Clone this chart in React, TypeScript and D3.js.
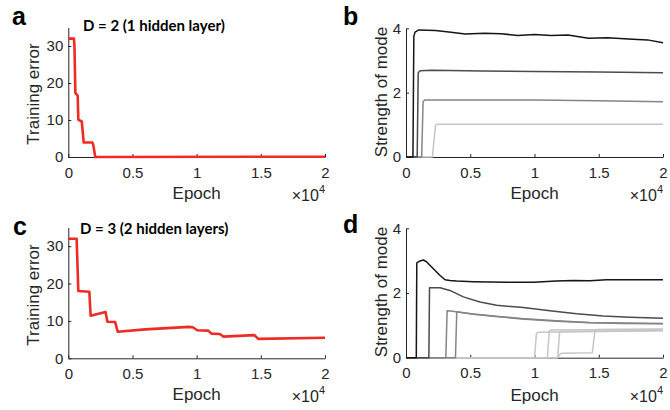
import React, { useEffect, useRef } from "react";
import * as d3 from "d3";

type Pt = [number, number];

// axis ticks
const epochTicks = [0, 5000, 10000, 15000, 20000];
const epochTickLabels = ["0", "0.5", "1", "1.5", "2"];
const errorTicks = [0, 10, 20, 30];
const strengthTicks = [0, 2, 4];

// panel a: training error, D = 2
const errorD2: Pt[] = [
  [0, 32], [440, 32], [480, 30], [550, 17.3], [730, 16.6], [780, 10.1], [1050, 9.6],
  [1200, 3.9], [1880, 3.9], [1950, 3.2], [2100, 0], [20000, 0.08],
];

// panel c: training error, D = 3
const errorD3: Pt[] = [
  [0, 32], [650, 32], [780, 18], [1640, 17.8], [1740, 11.4], [2900, 12.4], [3050, 9.8],
  [3650, 9.7], [3850, 7.1], [6000, 7.75], [9400, 8.4], [9700, 8.3], [10050, 7.5],
  [10900, 7.4], [11150, 6.6], [11800, 6.5], [12100, 5.8], [14500, 6.2], [14800, 5.2],
  [20000, 5.5],
];

// panel b: mode strengths, D = 2
const modeB1: Pt[] = [
  [0, 0], [540, 0], [610, 3.75], [700, 3.88], [1000, 3.95], [2300, 3.93], [3500, 3.88],
  [4600, 3.82], [6100, 3.85], [7400, 3.83], [8700, 3.78], [10000, 3.81], [11300, 3.78],
  [12600, 3.79], [14200, 3.69], [15700, 3.71], [17300, 3.67], [18800, 3.64], [20000, 3.55],
];
const modeB2: Pt[] = [
  [0, 0], [870, 0], [950, 2.62], [1100, 2.68], [2000, 2.7], [6000, 2.67], [10000, 2.66],
  [15000, 2.64], [20000, 2.62],
];
const modeB3: Pt[] = [
  [0, 0], [1220, 0], [1330, 1.72], [1450, 1.77], [10000, 1.77], [15000, 1.75], [20000, 1.72],
];
const modeB4: Pt[] = [[0, 0], [2050, 0], [2300, 0.98], [2400, 1.02], [20000, 1.02]];

// panel d: mode strengths, D = 3
const modeD1: Pt[] = [
  [0, 0], [800, 0], [840, 2.93], [1090, 2.99], [1350, 3.02], [1610, 2.96], [2130, 2.75],
  [2650, 2.54], [3040, 2.41], [3420, 2.39], [3940, 2.37], [5240, 2.35], [6540, 2.34],
  [7830, 2.33], [9910, 2.33], [11700, 2.37], [13000, 2.39], [14300, 2.38], [15600, 2.41],
  [20000, 2.41],
];
const modeD2: Pt[] = [
  [0, 0], [1780, 0], [1830, 2.16], [2650, 2.16], [3420, 2.08], [4460, 1.88], [5760, 1.72],
  [7050, 1.62], [9130, 1.55], [11200, 1.45], [13280, 1.36], [15350, 1.29], [17430, 1.25],
  [20000, 1.22],
];
const modeD3: Pt[] = [
  [0, 0], [3100, 0], [3200, 1.45], [3500, 1.44], [4000, 1.41], [5240, 1.35], [7000, 1.28],
  [9000, 1.21], [11700, 1.14], [14300, 1.09], [16900, 1.07], [20000, 1.06],
];
const modeD4: Pt[] = [
  [0, 0], [3850, 0], [3950, 1.42], [5240, 1.34], [7000, 1.27], [9000, 1.2], [11700, 1.13],
  [14300, 1.08], [16900, 1.06], [20000, 1.05],
];
const modeD5: Pt[] = [[0, 0], [10000, 0], [10150, 0.75], [10300, 0.79], [20000, 0.83]];
const modeD6: Pt[] = [[0, 0], [11000, 0], [11150, 0.82], [11300, 0.86], [20000, 0.88]];
const modeD7: Pt[] = [[0, 0], [11800, 0], [11950, 0.78], [12100, 0.81], [20000, 0.84]];
const modeD8: Pt[] = [
  [0, 0], [11800, 0], [12000, 0.12], [12200, 0.14], [14500, 0.15], [14700, 0.82],
  [14850, 0.87], [20000, 0.88],
];

const red = "#ee2b25";
const modeColorsB = ["#151515", "#4b4b4b", "#858585", "#c6c6c6"];
const modeColorsD = ["#151515", "#4b4b4b", "#858585", "#858585", "#c6c6c6", "#c6c6c6", "#c6c6c6", "#c6c6c6"];

const axisColor = "#262626";
const tickFont = "'Liberation Sans', Arial, sans-serif";
const titleFont = "Lato, 'Open Sans', sans-serif";

const panels = [
  {
    letter: "a", lx: 12, ly: 25,
    title: "D = 2 (1 hidden layer)", tx: 83, ty: 30.5,
    left: 68.3, right: 325, bottom: 157, top: 27.5, ymax: 35, yTicks: errorTicks,
    yLabel: "Training error", ylx: 38.5, yly: 94,
    xlabelY: 199, expY: 201,
    series: [errorD2], colors: [red], width: 2.6,
  },
  {
    letter: "b", lx: 343, ly: 25,
    title: "", tx: 0, ty: 0,
    left: 406, right: 663, bottom: 157, top: 28.3, ymax: 4, yTicks: strengthTicks,
    yLabel: "Strength of mode", ylx: 386.5, yly: 92,
    xlabelY: 199, expY: 201,
    series: [modeB1, modeB2, modeB3, modeB4], colors: modeColorsB, width: 1.5,
  },
  {
    letter: "c", lx: 13, ly: 235,
    title: "D = 3 (2 hidden layers)", tx: 80, ty: 234,
    left: 68.3, right: 325, bottom: 358.3, top: 227.5, ymax: 35, yTicks: errorTicks,
    yLabel: "Training error", ylx: 38.5, yly: 295,
    xlabelY: 400, expY: 402,
    series: [errorD3], colors: [red], width: 2.6,
  },
  {
    letter: "d", lx: 343, ly: 233,
    title: "", tx: 0, ty: 0,
    left: 406, right: 663, bottom: 357.7, top: 228.3, ymax: 4, yTicks: strengthTicks,
    yLabel: "Strength of mode", ylx: 386.5, yly: 292,
    xlabelY: 401, expY: 402,
    series: [modeD1, modeD2, modeD3, modeD4, modeD5, modeD6, modeD7, modeD8], colors: modeColorsD, width: 1.5,
  },
];

export default function App() {
  const ref = useRef<SVGSVGElement>(null);

  useEffect(() => {
    const svg = d3.select(ref.current);
    svg.selectAll("*").remove();

    panels.forEach((p) => {
      const x = d3.scaleLinear().domain([0, 20000]).range([p.left, p.right]);
      const y = d3.scaleLinear().domain([0, p.ymax]).range([p.bottom, p.top]);
      const g = svg.append("g");

      const gx = g.append("g")
        .attr("transform", `translate(0,${p.bottom})`)
        .call(
          d3.axisBottom(x)
            .tickValues(epochTicks)
            .tickFormat((d, i) => epochTickLabels[i])
            .tickSizeInner(-3)
            .tickSizeOuter(0)
            .tickPadding(10)
        );
      const gy = g.append("g")
        .attr("transform", `translate(${p.left},0)`)
        .call(
          d3.axisLeft(y)
            .tickValues(p.yTicks)
            .tickFormat(d3.format("d"))
            .tickSizeInner(-3)
            .tickSizeOuter(0)
            .tickPadding(5)
        );
      [gx, gy].forEach((a) => {
        a.attr("font-family", tickFont).attr("font-size", 15);
        a.select(".domain").attr("stroke", axisColor).attr("stroke-width", 1);
        a.selectAll(".tick line").attr("stroke", axisColor);
        a.selectAll(".tick text").attr("fill", axisColor);
      });

      const line = d3.line<Pt>().x((d) => x(d[0])).y((d) => y(d[1]));
      // draw lightest first so darker lines sit on top
      p.series.map((s, i) => ({ s, c: p.colors[i] })).reverse().forEach(({ s, c }) => {
        g.append("path")
          .datum(s)
          .attr("d", line)
          .attr("fill", "none")
          .attr("stroke", c)
          .attr("stroke-width", p.width)
          .attr("stroke-linejoin", "round");
      });

      g.append("text")
        .attr("x", (p.left + p.right) / 2)
        .attr("y", p.xlabelY)
        .attr("text-anchor", "middle")
        .attr("font-family", tickFont)
        .attr("font-size", 17)
        .attr("fill", axisColor)
        .text("Epoch");

      const exp = g.append("text")
        .attr("x", p.right)
        .attr("y", p.expY)
        .attr("text-anchor", "end")
        .attr("font-family", tickFont)
        .attr("font-size", 16)
        .attr("fill", axisColor);
      exp.append("tspan").text("×10");
      exp.append("tspan").attr("dy", -8).attr("font-size", 11).text("4");

      g.append("text")
        .attr("transform", `translate(${p.ylx},${p.yly}) rotate(-90)`)
        .attr("text-anchor", "middle")
        .attr("font-family", tickFont)
        .attr("font-size", 17)
        .attr("fill", axisColor)
        .text(p.yLabel);

      g.append("text")
        .attr("x", p.lx)
        .attr("y", p.ly)
        .attr("font-family", tickFont)
        .attr("font-weight", "bold")
        .attr("font-size", 25)
        .attr("fill", "#000")
        .text(p.letter);

      if (p.title) {
        g.append("text")
          .attr("x", p.tx)
          .attr("y", p.ty)
          .attr("font-family", titleFont)
          .attr("font-weight", "bold")
          .attr("font-size", 15)
          .attr("fill", "#000")
          .text(p.title);
      }
    });
  }, []);

  return (
    <svg
      ref={ref}
      width={670}
      height={410}
      style={{ position: "absolute", left: 0, top: 0, background: "#fff" }}
    />
  );
}
